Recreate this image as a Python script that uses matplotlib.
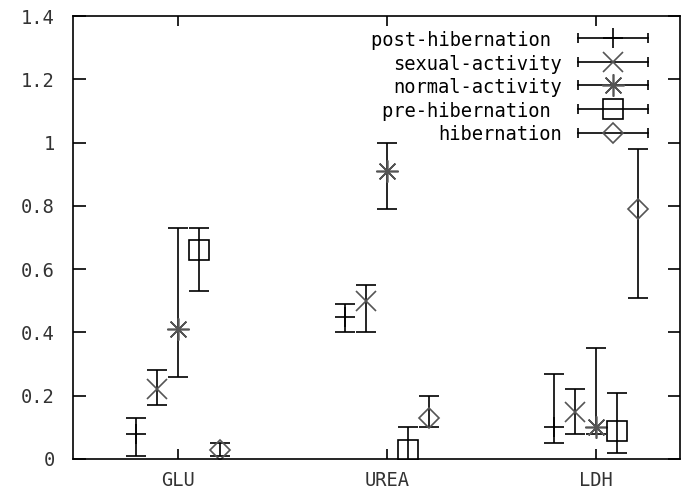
import matplotlib
matplotlib.use("Agg")
import matplotlib.pyplot as plt
import numpy as np

# measurements per category
categories = ["GLU", "UREA", "LDH"]

post_mean = [0.08, 0.45, 0.10]
post_lo = [0.01, 0.40, 0.05]
post_hi = [0.13, 0.49, 0.27]

sexual_mean = [0.22, 0.50, 0.15]
sexual_lo = [0.17, 0.40, 0.08]
sexual_hi = [0.28, 0.55, 0.22]

normal_mean = [0.41, 0.91, 0.10]
normal_lo = [0.26, 0.79, 0.08]
normal_hi = [0.73, 1.00, 0.35]

pre_mean = [0.66, 0.03, 0.09]
pre_lo = [0.53, -0.04, 0.02]
pre_hi = [0.73, 0.10, 0.21]

hib_mean = [0.03, 0.13, 0.79]
hib_lo = [0.01, 0.10, 0.51]
hib_hi = [0.05, 0.20, 0.98]

yticks = [0, 0.2, 0.4, 0.6, 0.8, 1.0, 1.2, 1.4]

FONT = "DejaVu Sans Mono"
FS = 13.5
GRAY = "#555555"

series = [
    # label, mean, lo, hi, offset, marker, size, colour, facecolour
    ("post-hibernation ", post_mean, post_lo, post_hi, -0.2, "+", 14, "black", "black"),
    ("sexual-activity", sexual_mean, sexual_lo, sexual_hi, -0.1, "x", 14, GRAY, GRAY),
    ("normal-activity", normal_mean, normal_lo, normal_hi, 0.0, (8, 2, 0), 16, GRAY, GRAY),
    ("pre-hibernation ", pre_mean, pre_lo, pre_hi, 0.1, "s", 14, "black", "none"),
    ("hibernation", hib_mean, hib_lo, hib_hi, 0.2, "D", 10, GRAY, "none"),
]

fig = plt.figure(figsize=(6.81, 4.93), dpi=100)
ax = fig.add_axes([73 / 681, 34 / 493, 607 / 681, 443 / 493])

x = np.arange(1, len(categories) + 1)

for label, mean, lo, hi, off, mk, ms, col, fc in series:
    mean = np.array(mean)
    err = np.vstack([mean - np.array(lo), np.array(hi) - mean])
    ax.errorbar(x + off, mean, yerr=err, fmt="none", ecolor="black",
                elinewidth=1.2, capsize=7, capthick=1.2)
    ax.plot(x + off, mean, linestyle="none", marker=mk, markersize=ms,
            markeredgecolor=col, markerfacecolor=fc, markeredgewidth=1.2)

# gnuplot-like key, text right-aligned, sample with error caps
key_rows = [0.950, 0.896, 0.844, 0.790, 0.736]
for (label, mean, lo, hi, off, mk, ms, col, fc), ky in zip(series, key_rows):
    ax.text(0.806, ky, label, transform=ax.transAxes, ha="right",
            va="center_baseline", fontsize=FS, family=FONT)
    ax.plot([0.832, 0.947], [ky, ky], transform=ax.transAxes, color="black",
            lw=1.2, marker="|", markersize=7, markeredgewidth=1.2)
    ax.plot([0.890], [ky], transform=ax.transAxes, linestyle="none", marker=mk,
            markersize=ms, markeredgecolor=col, markerfacecolor=fc,
            markeredgewidth=1.2)

ax.set_xlim(0.5, 3.4)
ax.set_ylim(0, 1.4)
ax.set_xticks(x)
ax.set_xticklabels(categories)
ax.set_yticks(yticks)
ax.set_yticklabels(["%g" % v for v in yticks])

ax.tick_params(direction="in", top=True, right=True, width=1.2,
               labelsize=FS, colors="black")
ax.tick_params(axis="y", length=9, pad=13)
ax.tick_params(axis="x", length=7, pad=9)
for lab in ax.get_xticklabels() + ax.get_yticklabels():
    lab.set_family(FONT)
    lab.set_color("#333333")

for sp in ax.spines.values():
    sp.set_linewidth(1.2)

plt.savefig("out.png", dpi=100)
plt.close()
